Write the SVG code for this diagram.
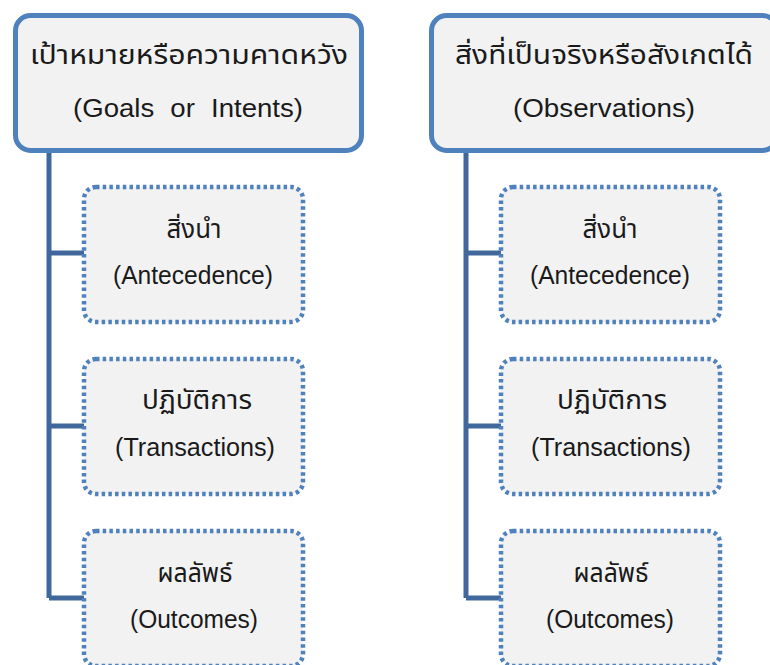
<svg xmlns="http://www.w3.org/2000/svg" width="770" height="665" viewBox="0 0 770 665">
<style>
.hdr{fill:#F2F2F2;stroke:#4F81BD;stroke-width:5}
.box{fill:#F2F2F2;stroke:#4F81BD;stroke-width:4.5;stroke-dasharray:3.5 3.2}
.con{fill:none;stroke:#41689C;stroke-width:5}
text{font-family:"Noto Sans Thai","Noto Sans","Liberation Sans",sans-serif;fill:#1a1a1a;text-anchor:middle}
.th{font-size:27px}
.en{font-family:"Liberation Sans",Arial,sans-serif;font-size:26px}
.tb{font-size:26px}
.eb{font-family:"Liberation Sans",Arial,sans-serif;font-size:25px}
</style>
<rect width="770" height="665" fill="#FFFFFF"/>
<g id="connectors">
<path class="con" d="M49,152 V598 M49,253 H84 M49,426 H84 M49,598 H84"/>
<path class="con" d="M466,152 V598 M466,253 H501 M466,426 H501 M466,598 H501"/>
</g>
<g id="left-header">
<rect class="hdr" x="15.5" y="15.5" width="346" height="135" rx="15"/>
<text class="th" x="189" y="64" textLength="318" lengthAdjust="spacingAndGlyphs">เป้าหมายหรือความคาดหวัง</text>
<text class="en" x="188" y="117" textLength="230" lengthAdjust="spacingAndGlyphs" style="word-spacing:8px">(Goals or Intents)</text>
</g>
<g id="right-header">
<rect class="hdr" x="431.5" y="15.5" width="346" height="135" rx="15"/>
<text class="th" x="604" y="64" textLength="298" lengthAdjust="spacingAndGlyphs">สิ่งที่เป็นจริงหรือสังเกตได้</text>
<text class="en" x="604" y="117" textLength="182" lengthAdjust="spacingAndGlyphs">(Observations)</text>
</g>
<g id="left-antecedence">
<rect class="box" x="84" y="187" width="219" height="135" rx="12"/>
<text class="tb" x="194" y="238" textLength="55" lengthAdjust="spacingAndGlyphs">สิ่งนำ</text>
<text class="eb" x="193" y="284" textLength="160" lengthAdjust="spacingAndGlyphs">(Antecedence)</text>
</g>
<g id="left-transactions">
<rect class="box" x="84" y="359" width="219" height="135" rx="12"/>
<text class="tb" x="197" y="409" textLength="110" lengthAdjust="spacingAndGlyphs">ปฏิบัติการ</text>
<text class="eb" x="195" y="456" textLength="160" lengthAdjust="spacingAndGlyphs">(Transactions)</text>
</g>
<g id="left-outcomes">
<rect class="box" x="84" y="531" width="219" height="135" rx="12"/>
<text class="tb" x="195" y="582" textLength="75" lengthAdjust="spacingAndGlyphs">ผลลัพธ์</text>
<text class="eb" x="194" y="628" textLength="128" lengthAdjust="spacingAndGlyphs">(Outcomes)</text>
</g>
<g id="right-antecedence">
<rect class="box" x="501" y="187" width="219" height="135" rx="12"/>
<text class="tb" x="610" y="238" textLength="55" lengthAdjust="spacingAndGlyphs">สิ่งนำ</text>
<text class="eb" x="610" y="284" textLength="160" lengthAdjust="spacingAndGlyphs">(Antecedence)</text>
</g>
<g id="right-transactions">
<rect class="box" x="501" y="359" width="219" height="135" rx="12"/>
<text class="tb" x="612" y="409" textLength="110" lengthAdjust="spacingAndGlyphs">ปฏิบัติการ</text>
<text class="eb" x="611" y="456" textLength="160" lengthAdjust="spacingAndGlyphs">(Transactions)</text>
</g>
<g id="right-outcomes">
<rect class="box" x="501" y="531" width="219" height="135" rx="12"/>
<text class="tb" x="611" y="582" textLength="75" lengthAdjust="spacingAndGlyphs">ผลลัพธ์</text>
<text class="eb" x="610" y="628" textLength="128" lengthAdjust="spacingAndGlyphs">(Outcomes)</text>
</g>
</svg>
